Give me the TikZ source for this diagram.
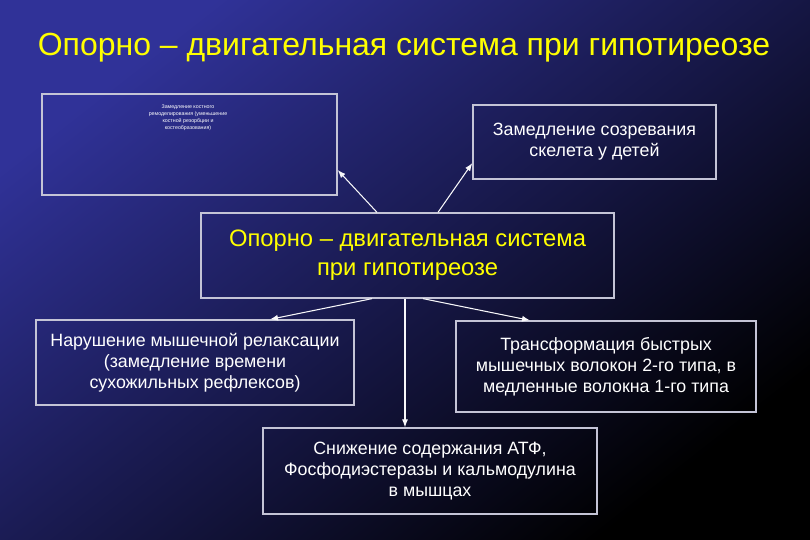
\documentclass[tikz,border=0pt]{standalone}
\usepackage{fontspec}
\setmainfont{Liberation Sans}
\usepackage{xcolor}
\usetikzlibrary{arrows.meta,calc}
\definecolor{bgtop}{RGB}{48,50,152}
\definecolor{bgmid}{RGB}{28,28,88}
\definecolor{edge}{RGB}{196,196,214}
\definecolor{titleyellow}{RGB}{255,255,0}

\begin{document}
\begin{tikzpicture}[x=0.03cm, y=-0.03cm, every node/.style={font=\fontsize{15.2pt}{18pt}\selectfont, text=white, align=center}, box/.style={draw=edge, line width=1.1pt, inner sep=0pt}, arr/.style={-{Latex[length=2.4mm,width=1.8mm]}, draw=white!88!edge, line width=0.9pt}]
% background
\useasboundingbox (0,0) rectangle (810,540);
\shade[top color=bgtop, middle color=bgmid, bottom color=black, shading angle=38] (0,0) rectangle (810,540);
\node[text=titleyellow, font=\fontsize{27.3pt}{31pt}\selectfont] (title) at (404,48) {Опорно – двигательная система при гипотиреозе};
% boxes
\node[box, minimum width=8.85cm, minimum height=3.03cm] (bone) at (189.5,144.5) {};
\node[anchor=north, font=\fontsize{4.5pt}{6pt}\selectfont] (bonetxt) at (188,101) {Замедление костного\\ремоделирования (уменьшение\\костной резорбции и\\костеобразования)};
\node[box, minimum width=7.29cm, minimum height=2.22cm] (skeleton) at (594.5,142) {Замедление созревания\\скелета у детей};
\node[box, minimum width=12.39cm, minimum height=2.55cm, text=titleyellow, font=\fontsize{20.3pt}{24.7pt}\selectfont] (centre) at (407.5,255.5) {Опорно – двигательная система\\при гипотиреозе};
\node[box, minimum width=9.54cm, minimum height=2.55cm] (relax) at (195,362.5) {Нарушение мышечной релаксации\\(замедление времени\\сухожильных рефлексов)};
\node[box, minimum width=9cm, minimum height=2.73cm] (fibres) at (606,366.5) {Трансформация быстрых\\мышечных волокон 2-го типа, в\\медленные волокна 1-го типа};
\node[box, minimum width=10.02cm, minimum height=2.58cm] (atp) at (430,471) {Снижение содержания АТФ,\\Фосфодиэстеразы и кальмодулина\\в мышцах};
% connectors
\draw[arr] ($(centre.north)+(-30.5,0)$) -- ($(bone.east)+(0,25.5)$);
\draw[arr] ($(centre.north)+(30.5,0)$) -- ($(skeleton.west)+(0,21)$);
\draw[arr] ($(centre.south)+(-35.5,0)$) -- ($(relax.north)+(75,0)$);
\draw[arr] ($(centre.south)+(15.5,0)$) -- ($(fibres.north)+(-76,0)$);
\draw[arr] ($(centre.south)+(-2.5,0)$) -- ($(atp.north)+(-25,0)$);
\end{tikzpicture}
\end{document}
